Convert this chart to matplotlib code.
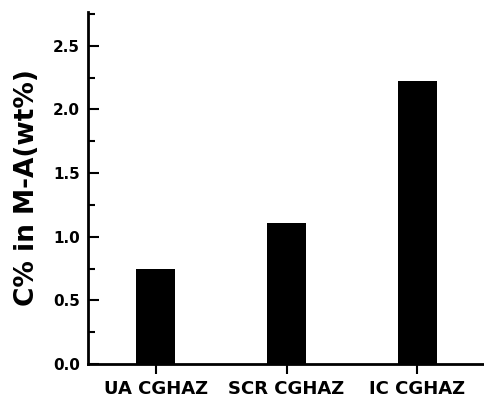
import matplotlib
matplotlib.use("Agg")
import matplotlib.pyplot as plt
from matplotlib.ticker import MultipleLocator

categories = ["UA CGHAZ", "SCR CGHAZ", "IC CGHAZ"]
values = [0.75, 1.11, 2.22]
yticks = [0, 0.5, 1.0, 1.5, 2.0, 2.5]
ytick_labels = ["0.0", "0.5", "1.0", "1.5", "2.0", "2.5"]

plt.rcParams['font.family'] = ['DejaVu Sans']

fig = plt.figure(figsize=(4.85, 3.97), dpi=100)
ax = fig.add_axes([88/485, 1-364/397, 1-88/485, (364-12)/397])
x = list(range(len(categories)))
ax.bar(x, values, width=0.3, color='black')
ax.set_xlim(-0.52, 2.52)
ax.set_ylim(0, 2.765)
ax.set_xticks(x)
ax.set_xticklabels(categories, fontsize=13, fontweight='bold')
ax.set_yticks(yticks)
ax.set_yticklabels(ytick_labels, fontsize=11, fontweight='bold')
ax.yaxis.set_minor_locator(MultipleLocator(0.25))
ax.tick_params(axis='y', which='major', direction='in', length=8, width=1.5, pad=6)
ax.tick_params(axis='y', which='minor', direction='in', length=5, width=1.5)
ax.tick_params(axis='x', which='major', direction='out', length=7, width=1.5, pad=4.5)
for s in ['top', 'right']:
    ax.spines[s].set_visible(False)
for s in ['left', 'bottom']:
    ax.spines[s].set_linewidth(2)
ax.set_ylabel("C% in M-A(wt%)", fontsize=19, fontweight='bold', labelpad=9)
fig.savefig("out.png", dpi=100)
